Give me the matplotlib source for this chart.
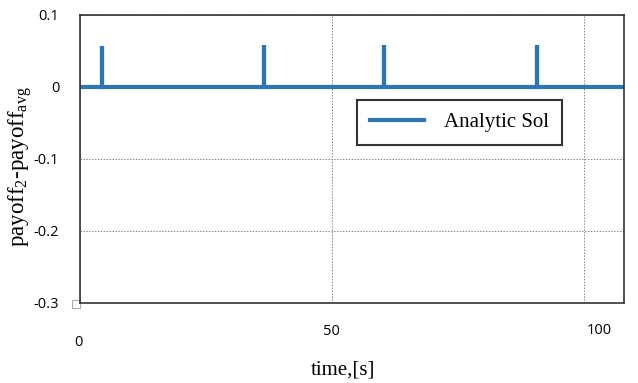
import matplotlib.pyplot as plt
import matplotlib.transforms as mtransforms

# spike times and heights
spike_times = [4.4, 36.6, 60.4, 90.8]
spike_heights = [0.057, 0.059, 0.059, 0.059]
t_start, t_end = 0, 108
x_ticks = [0, 50, 100]
x_tick_labels = ['0', '50', '100']
y_ticks = [0.1, 0, -0.1, -0.2, -0.3]
y_tick_labels = ['0.1', '0', '-0.1', '-0.2', '-0.3']

plt.rcParams['mathtext.fontset'] = 'custom'
plt.rcParams['mathtext.rm'] = 'Liberation Serif'
plt.rcParams['mathtext.it'] = 'Liberation Serif:italic'

# build the step curve: flat at zero with thin spikes
t = [t_start]
y = [0]
for st, sh in zip(spike_times, spike_heights):
    t += [st, st, st]
    y += [0, sh, 0]
t.append(t_end)
y.append(0)

fig = plt.figure(figsize=(6.38, 3.83), dpi=100)
ax = fig.add_axes([80 / 638, 1 - 303 / 383, 544 / 638, 288 / 383])

ax.plot(t, y, color='#2E75B6', lw=3, label='Analytic Sol', solid_joinstyle='miter')

ax.set_xlim(t_start, t_end)
ax.set_ylim(-0.3, 0.1)
ax.set_xticks(x_ticks)
ax.set_xticklabels(x_tick_labels, fontfamily='Open Sans', fontsize=10.5)
ax.set_yticks(y_ticks)
ax.set_yticklabels(y_tick_labels, fontfamily='Open Sans', fontsize=10.5)
ax.tick_params(axis='x', length=0, pad=15)
ax.tick_params(axis='y', length=0, pad=15)

# nudge x tick labels like the original
lbls = ax.get_xticklabels()
lbls[0].set_transform(lbls[0].get_transform() + mtransforms.ScaledTranslation(-2 / 100, -11 / 100, fig.dpi_scale_trans))
lbls[2].set_transform(lbls[2].get_transform() + mtransforms.ScaledTranslation(16 / 100, 1 / 100, fig.dpi_scale_trans))

ax.grid(True, color='#888888', linestyle=(0, (1.5, 1.5)), lw=0.7)
for s in ax.spines.values():
    s.set_color('#333333')
    s.set_linewidth(1.2)

# small square marker at the corner
ax.plot([-0.7], [-0.302], marker='s', ms=6, mfc='white', mec='#aaaaaa', mew=0.8, clip_on=False)

ax.set_ylabel(r'payoff$_2$-payoff$_{\mathrm{avg}}$', fontfamily='Liberation Serif', fontsize=16.5, va='center')
ax.yaxis.set_label_coords(-60 / 544, 0.472)
ax.set_xlabel('time,[s]', fontfamily='Liberation Serif', fontsize=15, va='center')
ax.xaxis.set_label_coords(263 / 544, -67 / 288)

leg = ax.legend(loc='upper left', bbox_to_anchor=(277 / 544, 1 - 85 / 288), frameon=True,
                fancybox=False, edgecolor='black', handlelength=2.6, borderpad=0.6,
                handletextpad=1.0, borderaxespad=0,
                prop={'family': 'Liberation Serif', 'size': 15})
leg.get_frame().set_linewidth(1.5)

fig.savefig('out.png', dpi=100)
